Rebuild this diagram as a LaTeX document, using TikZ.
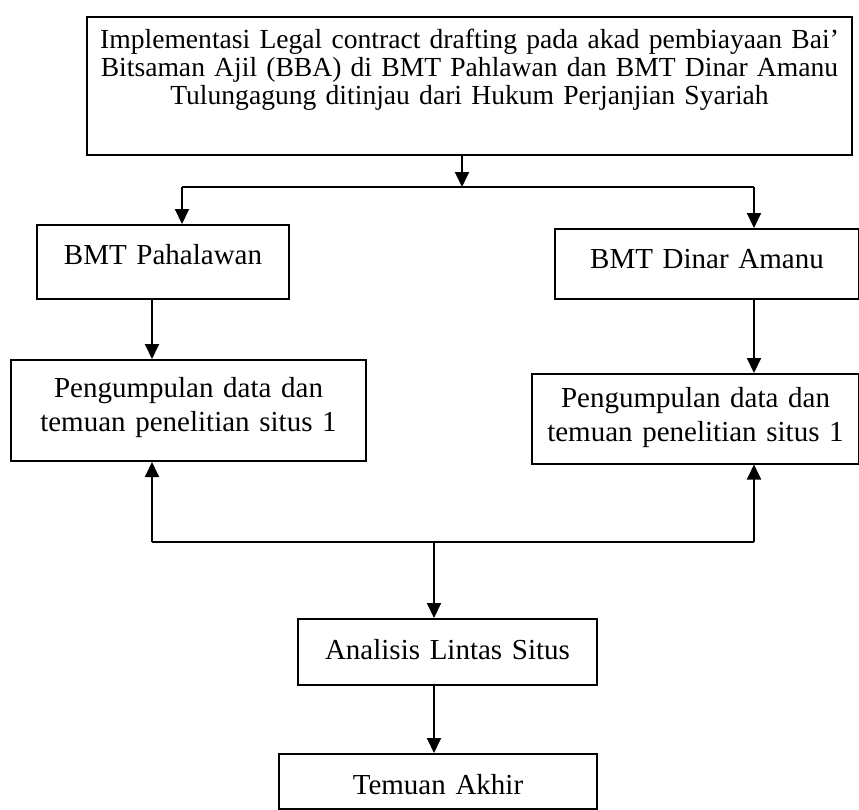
\documentclass[tikz,border=0pt]{standalone}
\usepackage{fontspec}
\setmainfont{Liberation Serif}
\usetikzlibrary{arrows.meta}

\begin{document}
\begin{tikzpicture}[x=0.5pt,y=-0.5pt,
    kotak/.style={draw,line width=1pt,inner sep=0pt,anchor=north west,align=center,
      font=\fontsize{14.5}{17}\selectfont},
    panah/.style={line width=1pt,-{Triangle[length=7.5pt,width=7pt]}}]
    \useasboundingbox (0,0) rectangle (859,810);

    \node[kotak,text width=382.5pt,text height=15.5pt,text depth=53.5pt,
      font=\fontsize{13.8}{14.15}\selectfont] (Judul) at (86,16)
      {Implementasi Legal contract drafting pada akad pembiayaan Bai’\\
       Bitsaman Ajil (BBA) di BMT Pahlawan dan BMT Dinar Amanu\\
       Tulungagung ditinjau dari Hukum Perjanjian Syariah};

    \node[kotak,text width=126pt,text height=19.5pt,text depth=17.5pt]
      (BmtA) at (36,224) {BMT Pahalawan};
    \node[kotak,text width=152pt,text height=19.5pt,text depth=15.5pt]
      (BmtB) at (554,228) {BMT Dinar Amanu};

    \node[kotak,text width=177.5pt,text height=18.5pt,text depth=32pt]
      (DataA) at (10,359) {Pengumpulan data dan\\ temuan penelitian situs 1};
    \node[kotak,text width=163.5pt,text height=16.5pt,text depth=28.25pt]
      (DataB) at (531,373) {Pengumpulan data dan\\ temuan penelitian situs 1};

    \node[kotak,text width=149.5pt,text height=20pt,text depth=13pt]
      (Lintas) at (297,618) {Analisis Lintas Situs};
    \node[kotak,text width=159pt,text height=20pt,text depth=7.5pt]
      (Akhir) at (278,753) {Temuan Akhir};

    \coordinate (Cab)  at (462,187);
    \coordinate (CabA) at (182,187);
    \coordinate (CabB) at (754,187);
    \coordinate (Gab)  at (434,542);
    \coordinate (GabA) at (152,542);
    \coordinate (GabB) at (754,542);

    % percabangan ke dua BMT
    \draw[panah] (Judul.south -| Cab) -- (Cab);
    \draw[line width=1pt] (CabA) -- (CabB);
    \draw[panah] (CabA) -- (CabA |- BmtA.north);
    \draw[panah] (CabB) -- (CabB |- BmtB.north);

    \draw[panah] (BmtA.south -| GabA) -- (GabA |- DataA.north);
    \draw[panah] (BmtB.south -| GabB) -- (GabB |- DataB.north);

    % penggabungan ke analisis
    \draw[line width=1pt] (GabA) -- (GabB);
    \draw[panah] (GabA) -- (GabA |- DataA.south);
    \draw[panah] (GabB) -- (GabB |- DataB.south);
    \draw[panah] (Gab) -- (Gab |- Lintas.north);
    \draw[panah] (Lintas.south -| Gab) -- (Gab |- Akhir.north);
\end{tikzpicture}
\end{document}
